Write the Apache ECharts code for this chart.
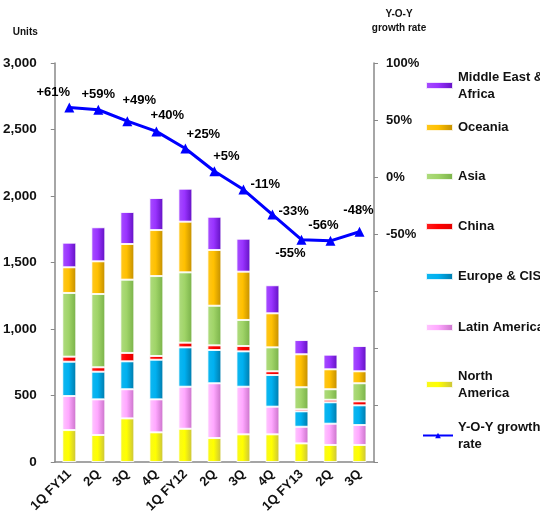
<!DOCTYPE html>
<html>
<head>
<meta charset="utf-8">
<script src="https://cdn.jsdelivr.net/npm/echarts@6/dist/echarts.min.js"></script>
<style>
  html, body { margin: 0; padding: 0; background: #fff; }
  #chart { width: 540px; height: 517px; }
</style>
</head>
<body>
<div id="chart"></div>
<script>
// Quarterly unit shipments by region, with year-over-year growth
const categories = ['1Q FY11', '2Q', '3Q', '4Q', '1Q FY12', '2Q', '3Q', '4Q', '1Q FY13', '2Q', '3Q'];

const northAmerica = [240, 203, 328, 223, 250, 180, 208, 208, 140, 128, 128];
const latinAmerica = [256, 268, 219, 248, 316, 412, 358, 208, 125, 160, 150];
const europeCIS    = [258, 208, 210, 298, 296, 250, 266, 238, 116, 161, 148];
const china        = [38, 33, 63, 28, 35, 35, 40, 28, 15, 19, 30];
const asia         = [479, 551, 551, 601, 529, 298, 196, 180, 166, 79, 136];
const oceania      = [193, 246, 268, 346, 381, 419, 363, 256, 248, 150, 90];
const middleEastAfrica = [185, 256, 241, 241, 248, 250, 248, 211, 107, 110, 190];

const yoyGrowth = [61, 59, 49, 40, 25, 5, -11, -33, -55, -56, -48];

const leftTicks = { min: 0, max: 3000, interval: 500 };
const rightTicks = { min: -250, max: 100, interval: 50 };

// label placement for each growth point
const yoyLabelPlacement = [
  { position: 'top', offset: [-16, 0] },
  { position: 'top', offset: [0, 0] },
  { position: 'top', offset: [12, -5] },
  { position: 'top', offset: [11, 0] },
  { position: 'top', offset: [18, 1] },
  { position: 'top', offset: [12, 1] },
  { position: 'right', offset: [-2, -5] },
  { position: 'right', offset: [-3, -3] },
  { position: 'bottom', offset: [-11, -2] },
  { position: 'top', offset: [-7, 0] },
  { position: 'top', offset: [-1, -6] }
];

const FONT = 'Liberation Sans, Arial, sans-serif';

function grad(c0, c1, c2) {
  return new echarts.graphic.LinearGradient(0, 0, 1, 0, [
    { offset: 0, color: c0 },
    { offset: 0.45, color: c1 },
    { offset: 1, color: c2 }
  ]);
}

const regions = [
  { name: 'North America', data: northAmerica, color: grad('#F8F820', '#FFFF00', '#C8C040') },
  { name: 'Latin America', data: latinAmerica, color: grad('#FFC8FF', '#FFA8FF', '#C870C8') },
  { name: 'Europe & CIS', data: europeCIS, color: grad('#10B8F0', '#00B0F0', '#0078A8') },
  { name: 'China', data: china, color: grad('#FF2020', '#FF0000', '#E00000') },
  { name: 'Asia', data: asia, color: grad('#B0DC80', '#A0D468', '#78B048') },
  { name: 'Oceania', data: oceania, color: grad('#FFC820', '#FFC000', '#C08C00') },
  { name: 'Middle East & Africa', data: middleEastAfrica, color: grad('#A850FF', '#9933FF', '#6010C0') }
];

const series = regions.map(r => ({
  name: r.name,
  type: 'bar',
  stack: 'units',
  barWidth: 14,
  data: r.data,
  itemStyle: { color: r.color, borderColor: 'rgba(255,255,255,0.85)', borderWidth: 1 },
  emphasis: { disabled: true }
}));

series.push({
  name: 'Y-O-Y growth rate',
  type: 'line',
  yAxisIndex: 1,
  data: yoyGrowth.map((v, i) => ({
    value: v,
    label: yoyLabelPlacement[i]
  })),
  symbol: 'triangle',
  symbolSize: 10,
  lineStyle: { color: '#0000FF', width: 3 },
  itemStyle: { color: '#0000FF' },
  label: {
    show: true,
    color: '#000',
    fontFamily: FONT,
    fontWeight: 'bold',
    fontSize: 13,
    distance: 4,
    formatter: p => (p.value > 0 ? '+' : '') + p.value + '%'
  },
  z: 5
});

// one legend block per entry, stacked down the right side
const legendRows = [
  { name: 'Middle East & Africa', top: 69, text: 'Middle East &\nAfrica', lines: 2 },
  { name: 'Oceania', top: 119, text: 'Oceania', lines: 1 },
  { name: 'Asia', top: 168, text: 'Asia', lines: 1 },
  { name: 'China', top: 218, text: 'China', lines: 1 },
  { name: 'Europe & CIS', top: 268, text: 'Europe & CIS', lines: 1 },
  { name: 'Latin America', top: 319, text: 'Latin America', lines: 1 },
  { name: 'North America', top: 368, text: 'North\nAmerica', lines: 2 },
  { name: 'Y-O-Y growth rate', top: 419, text: 'Y-O-Y growth\nrate', lines: 2 }
];

const legends = legendRows.map(row => {
  const isLine = row.name === 'Y-O-Y growth rate';
  return {
    data: [row.name],
    left: isLine ? 422 : 425,
    top: row.lines === 2 ? row.top - 9 : row.top,
    orient: 'vertical',
    padding: 0,
    itemWidth: isLine ? 30 : 27,
    itemHeight: 7,
    itemGap: 0,
    icon: isLine ? undefined : 'rect',
    selectedMode: false,
    formatter: () => row.text,
    textStyle: {
      fontFamily: FONT,
      fontWeight: 'bold',
      fontSize: 13,
      color: '#111',
      lineHeight: 17,
      padding: row.lines === 2 ? [17, 0, 0, 0] : 0
    }
  };
});

const chart = echarts.init(document.getElementById('chart'), null, { renderer: 'canvas' });

chart.setOption({
  animation: false,
  backgroundColor: '#fff',
  grid: { left: 52, right: 166, top: 63, bottom: 55 },
  legend: legends,
  xAxis: {
    type: 'category',
    data: categories,
    axisLine: { lineStyle: { color: '#888', width: 1.5 } },
    axisTick: { length: 4, lineStyle: { color: '#888' } },
    axisLabel: {
      rotate: 45,
      interval: 0,
      margin: 10,
      color: '#111',
      fontFamily: FONT,
      fontWeight: 'bold',
      fontSize: 13
    }
  },
  yAxis: [
    {
      type: 'value',
      min: leftTicks.min,
      max: leftTicks.max,
      interval: leftTicks.interval,
      name: 'Units',
      nameLocation: 'end',
      nameGap: 26,
      nameTextStyle: {
        align: 'right',
        padding: [0, 17, 0, 0],
        color: '#111',
        fontFamily: FONT,
        fontWeight: 'bold',
        fontSize: 10
      },
      axisLine: { show: true, lineStyle: { color: '#888', width: 1.5 } },
      axisTick: { show: true, length: 4, lineStyle: { color: '#888' } },
      splitLine: { show: false },
      axisLabel: {
        margin: 18,
        color: '#111',
        fontFamily: FONT,
        fontWeight: 'bold',
        fontSize: 13.5,
        formatter: v => v.toLocaleString('en-US')
      }
    },
    {
      type: 'value',
      min: rightTicks.min,
      max: rightTicks.max,
      interval: rightTicks.interval,
      name: 'Y-O-Y\ngrowth rate',
      nameLocation: 'end',
      nameGap: 28,
      nameTextStyle: {
        align: 'center',
        padding: [0, 0, 0, 50],
        color: '#111',
        fontFamily: FONT,
        fontWeight: 'bold',
        fontSize: 10,
        lineHeight: 14
      },
      axisLine: { show: true, lineStyle: { color: '#888', width: 1.5 } },
      axisTick: { show: true, length: 4, lineStyle: { color: '#888' } },
      splitLine: { show: false },
      axisLabel: {
        margin: 12,
        color: '#111',
        fontFamily: FONT,
        fontWeight: 'bold',
        fontSize: 13,
        formatter: v => (v >= -50 ? v + '%' : '')
      }
    }
  ],
  series: series
});
</script>
</body>
</html>
